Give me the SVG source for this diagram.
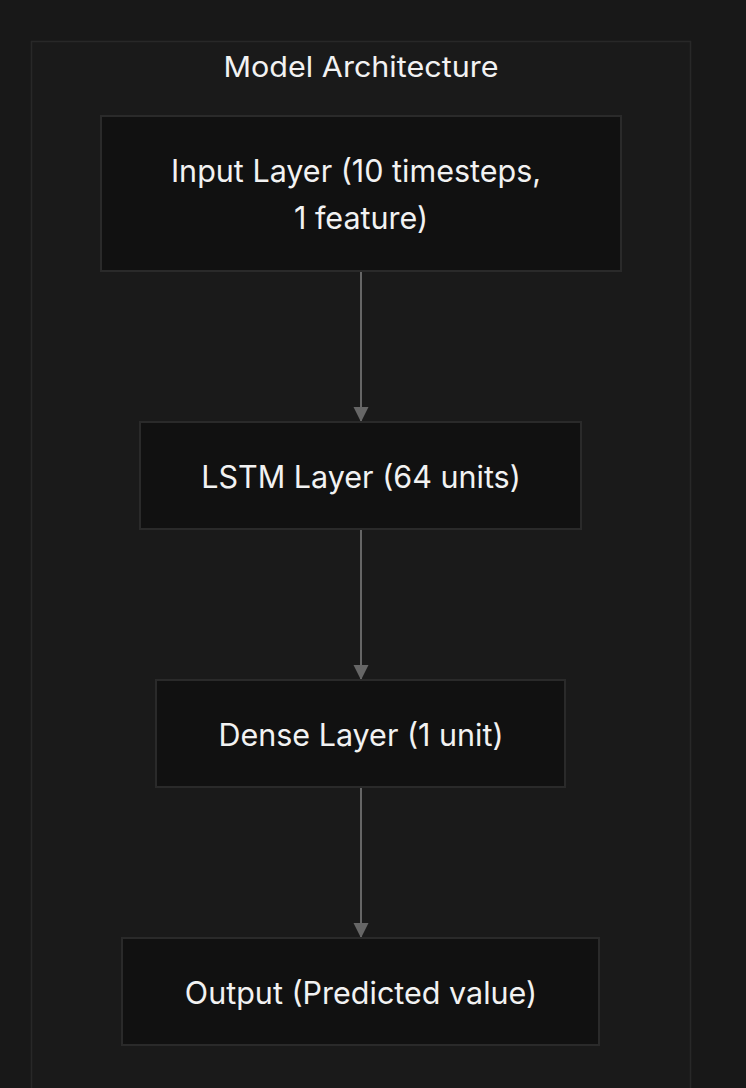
<svg xmlns="http://www.w3.org/2000/svg" width="746" height="1088" viewBox="0 0 746 1088">
<style>
.node rect{fill:#111111;stroke:#2a2a2a;stroke-width:2}
.lbl{font-family:Inter,"Noto Sans",sans-serif;font-size:30.5px;fill:#f2f2f2;text-anchor:middle}
.edge{stroke:#666666;stroke-width:2;fill:none}
</style>
<defs>
<marker id="arr" viewBox="0 0 10 10" refX="10" refY="5" markerWidth="15" markerHeight="16" markerUnits="userSpaceOnUse" orient="auto">
<path d="M0,0 L10,5 L0,10 z" fill="#666666"/>
</marker>
</defs>
<rect width="746" height="1088" fill="#181818"/>
<g id="cluster">
<rect x="31.5" y="41.5" width="659" height="1060" fill="#1a1a1a" stroke="#282828" stroke-width="1.5"/>
<text class="lbl" x="361" y="77" style="font-size:28px" textLength="275" lengthAdjust="spacingAndGlyphs">Model Architecture</text>
</g>
<g id="edges">
<path class="edge" d="M361,272 V422" marker-end="url(#arr)"/>
<path class="edge" d="M361,530 V680" marker-end="url(#arr)"/>
<path class="edge" d="M361,788 V938" marker-end="url(#arr)"/>
</g>
<g id="input" class="node">
<rect x="101" y="116" width="520" height="155"/>
<text class="lbl" x="356" y="182">Input Layer (10 timesteps,</text>
<text class="lbl" x="361" y="229">1 feature)</text>
</g>
<g id="lstm" class="node">
<rect x="140" y="422" width="441" height="107"/>
<text class="lbl" x="361" y="488">LSTM Layer (64 units)</text>
</g>
<g id="dense" class="node">
<rect x="156" y="680" width="409" height="107"/>
<text class="lbl" x="361" y="746">Dense Layer (1 unit)</text>
</g>
<g id="output" class="node">
<rect x="122" y="938" width="477" height="107"/>
<text class="lbl" x="361" y="1004">Output (Predicted value)</text>
</g>
</svg>
